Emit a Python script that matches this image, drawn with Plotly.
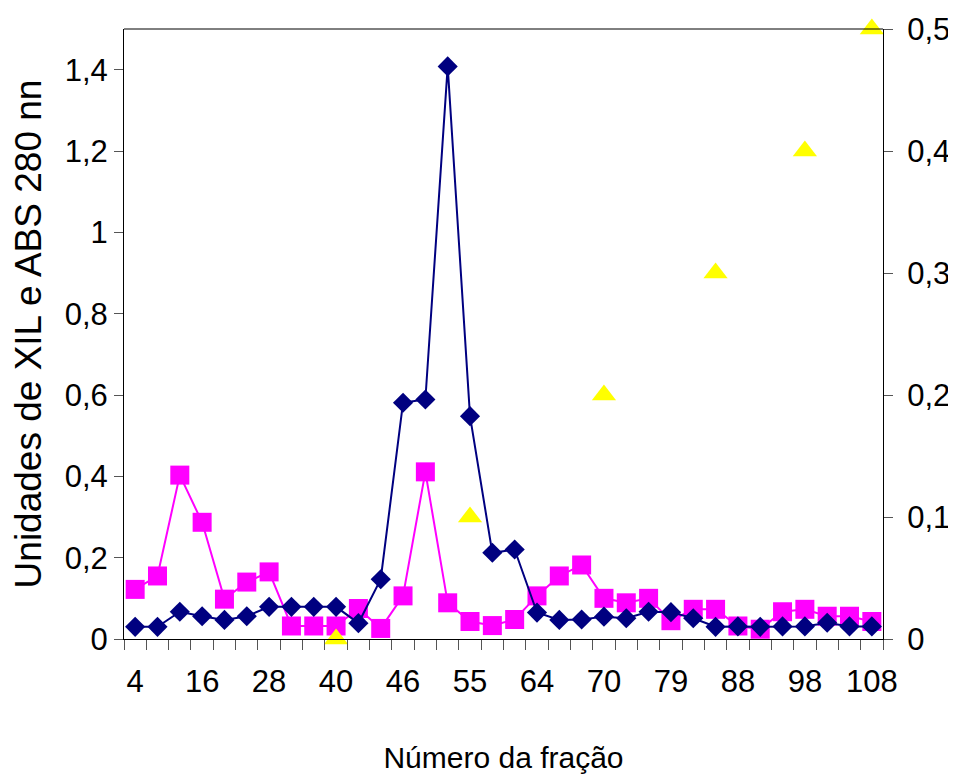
import plotly.graph_objects as go

categories = ["4", "8", "12", "16", "20", "24", "28", "32", "36", "40", "42", "44",
              "46", "49", "52", "55", "58", "61", "64", "66", "68", "70", "73", "76",
              "79", "82", "85", "88", "91", "95", "98", "101", "104", "108"]
shown_labels = ["4", "16", "28", "40", "46", "55", "64", "70", "79", "88", "98", "108"]

abs280 = [0.030, 0.030, 0.067, 0.056, 0.047, 0.056, 0.079, 0.079, 0.079, 0.079, 0.039, 0.147,
          0.581, 0.589, 1.408, 0.548, 0.212, 0.220, 0.065, 0.047, 0.048, 0.055, 0.051, 0.067,
          0.066, 0.051, 0.030, 0.031, 0.030, 0.031, 0.031, 0.040, 0.031, 0.031]
xil_units = [0.122, 0.155, 0.403, 0.287, 0.098, 0.140, 0.165, 0.032, 0.032, 0.032, 0.075, 0.026,
             0.106, 0.411, 0.089, 0.043, 0.033, 0.048, 0.106, 0.155, 0.182, 0.100, 0.089, 0.100,
             0.045, 0.073, 0.073, 0.032, 0.024, 0.067, 0.073, 0.056, 0.056, 0.043]
gradient_cats = ["40", "55", "70", "85", "98", "108"]
gradient = [0.0, 0.1, 0.2, 0.3, 0.4, 0.5]

left_ticks = [0, 0.2, 0.4, 0.6, 0.8, 1.0, 1.2, 1.4]
left_ticktext = ["0", "0,2", "0,4", "0,6", "0,8", "1", "1,2", "1,4"]
right_ticks = [0, 0.1, 0.2, 0.3, 0.4, 0.5]
right_ticktext = ["0", "0,1", "0,2", "0,3", "0,4", "0,5"]

FONT = "Liberation Sans, Arial, sans-serif"

fig = go.Figure()
fig.add_trace(go.Scatter(x=categories, y=xil_units, mode="lines+markers",
                         line=dict(color="#FF00FF", width=2),
                         marker=dict(symbol="square", size=19, color="#FF00FF"),
                         yaxis="y", showlegend=False))
fig.add_trace(go.Scatter(x=categories, y=abs280, mode="lines+markers",
                         line=dict(color="#000080", width=2),
                         marker=dict(symbol="diamond", size=15.5, color="#000080"),
                         yaxis="y", showlegend=False))
fig.add_trace(go.Scatter(x=gradient_cats, y=gradient, mode="markers",
                         marker=dict(symbol="triangle-up", size=21, color="#FFFF00"),
                         yaxis="y2", showlegend=False, cliponaxis=False))

ticklabel_all = [c if c in shown_labels else "" for c in categories]

fig.update_layout(
    width=948, height=772,
    paper_bgcolor="white", plot_bgcolor="white",
    margin=dict(l=116, r=73, t=21, b=141),
    font=dict(family=FONT, color="black", size=31),
    xaxis=dict(type="category", categoryorder="array", categoryarray=categories,
               range=[-0.5, len(categories) - 0.5], automargin=False,
               tickmode="array", tickvals=categories, ticktext=ticklabel_all,
               tickson="boundaries", ticks="outside", ticklen=10, tickwidth=1,
               tickcolor="#555555", tickangle=0, ticklabelstandoff=15,
               showline=True, linecolor="black", linewidth=1, mirror=False,
               showgrid=False, zeroline=False,
               tickfont=dict(size=31),
               title=dict(text="Número da fração", font=dict(size=30), standoff=48)),
    yaxis=dict(range=[0, 1.5], tickmode="array", tickvals=left_ticks, ticktext=left_ticktext,
               ticks="outside", ticklen=9, tickwidth=1, tickcolor="#555555", automargin=False,
               showline=True, linecolor="black", linewidth=1,
               showgrid=False, zeroline=False,
               tickfont=dict(size=31),
               title=dict(text="Unidades de XIL e ABS 280 nn", font=dict(size=37),
                          standoff=14)),
    yaxis2=dict(range=[0, 0.5], overlaying="y", side="right", anchor="x", automargin=False,
                tickmode="array", tickvals=right_ticks, ticktext=right_ticktext,
                ticks="outside", ticklen=9, tickwidth=1, tickcolor="#555555",
                ticklabelstandoff=8,
                showline=True, linecolor="black", linewidth=1,
                showgrid=False, zeroline=False, tickfont=dict(size=31)),
    yaxis3=dict(range=[0, 1.5], overlaying="y", side="left", anchor="x", automargin=False,
                tickmode="array", tickvals=left_ticks, ticktext=left_ticktext,
                ticks="inside", ticklen=8, tickwidth=1, tickcolor="#555555",
                showticklabels=False, showline=False, showgrid=False, zeroline=False),
    yaxis4=dict(range=[0, 0.5], overlaying="y", side="right", anchor="x", automargin=False,
                tickmode="array", tickvals=right_ticks, ticktext=right_ticktext,
                ticks="inside", ticklen=8, tickwidth=1, tickcolor="#555555",
                showticklabels=False, showline=False, showgrid=False, zeroline=False),
    shapes=[dict(type="line", xref="paper", yref="paper", x0=0, x1=1, y0=1, y1=1,
                 line=dict(color="black", width=1))],
)

fig.write_html("out.html")
